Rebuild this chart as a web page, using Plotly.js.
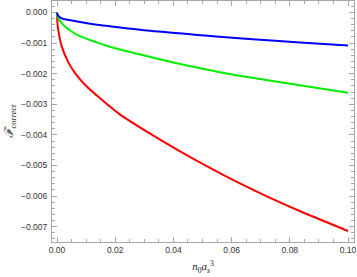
<!DOCTYPE html>
<html><head><meta charset="utf-8">
<script src="https://cdn.plot.ly/plotly-3.0.1.min.js"></script>
<style>html,body{margin:0;padding:0;background:#fff}#plot{width:357px;height:277px}</style>
</head><body><div id="plot"></div>
<script>
const redX = [0, 0.00012, 0.0004, 0.0016, 0.0039, 0.0062, 0.0096, 0.015, 0.0216, 0.032, 0.042, 0.0526, 0.0606, 0.0721, 0.0832, 0.1];
const redY = [0, -0.00030, -0.00055, -0.00110, -0.00163, -0.00198, -0.00236, -0.00282, -0.00333, -0.00396, -0.00452, -0.00508, -0.00548, -0.00601, -0.00648, -0.00714];
const greenX = [0, 0.0001, 0.0004, 0.0016, 0.0039, 0.0073, 0.0131, 0.0182, 0.0297, 0.0411, 0.0491, 0.056, 0.066, 0.0835, 0.1];
const greenY = [0, -0.00009, -0.00018, -0.00035, -0.00055, -0.00075, -0.00096, -0.00112, -0.00140, -0.00166, -0.00182, -0.00195, -0.00212, -0.00238, -0.00262];
const blueX = [0, 0.0001, 0.0004, 0.0016, 0.0051, 0.0131, 0.0182, 0.032, 0.0526, 0.066, 0.0835, 0.1];
const blueY = [0, -0.00005, -0.00010, -0.00019, -0.00026, -0.00039, -0.00045, -0.00060, -0.00077, -0.00087, -0.00098, -0.00108];

const mk = (x, y, c) => ({x, y, type:'scatter', mode:'lines', line:{color:c, width:2, shape:'spline', smoothing:0.8}, hoverinfo:'skip'});
const frame = '#a6a6a6';
const axBase = {
  showgrid:false, zeroline:false, showline:true, linecolor:frame, linewidth:1,
  mirror:'ticks', ticks:'inside', ticklen:5, tickcolor:frame, tickwidth:1,
  tickfont:{family:'Liberation Sans, Arial, sans-serif', size:8.5, color:'#333'},
};
const layout = {
  width:357, height:277,
  margin:{l:52, r:3, t:1, b:35},
  paper_bgcolor:'#fff', plot_bgcolor:'#fff',
  showlegend:false,
  xaxis: Object.assign({}, axBase, {
    range:[-0.00172, 0.10206], tick0:0, dtick:0.02, tickformat:'.2f',
    minor:{dtick:0.005, ticklen:3, tickcolor:frame, ticks:'inside'},
    title:{text:'<i>n</i><sub>0</sub><i>a</i><sub><i>s</i></sub><sup>3</sup>', font:{family:'Liberation Serif, serif', size:11, color:'#222'}, standoff:8}
  }),
  yaxis: Object.assign({}, axBase, {
    range:[-0.0075, 0.000375], tick0:0, dtick:0.001, tickformat:'.3f',
    minor:{dtick:0.0002, ticklen:3, tickcolor:frame, ticks:'inside'},
    ticklabelstandoff:2,
    title:{text:'<i>ℱ</i><sub><i>correct</i></sub>', font:{family:'Liberation Serif, serif', size:12, color:'#222'}, standoff:4}
  })
};
Plotly.newPlot('plot', [mk(redX, redY, '#ff0000'), mk(greenX, greenY, '#00ee00'), mk(blueX, blueY, '#0000ff')], layout, {staticPlot:true});
</script></body></html>
